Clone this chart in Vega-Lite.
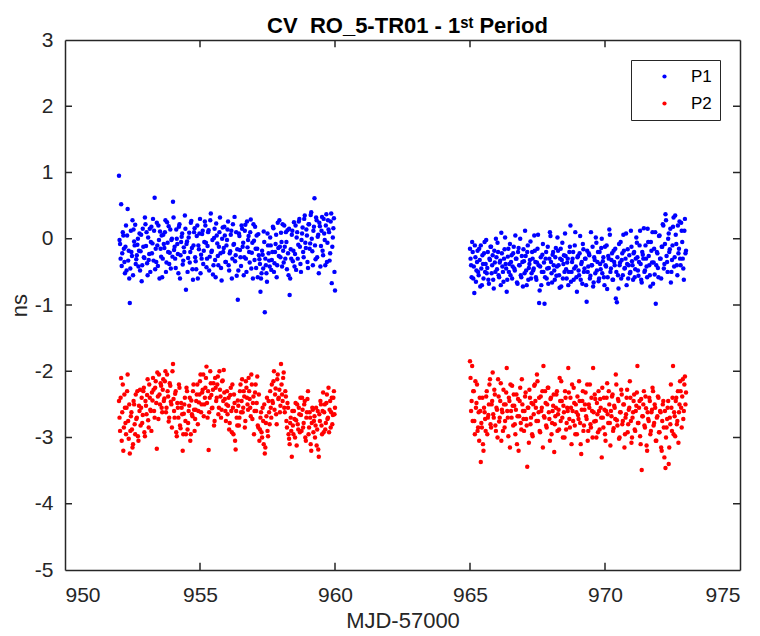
{
"$schema":"https://vega.github.io/schema/vega-lite/v6.json",
"autosize":{"type":"none"},
"padding":{"left":65,"top":40,"right":20,"bottom":66},
"width":675,"height":530,
"background":"white",
"title":{"text":"CV\u00a0 RO_5-TR01 - 1ˢᵗ Period","fontSize":22,"fontWeight":"bold","color":"#000000","font":"Liberation Sans","anchor":"middle","offset":-9,"dx":5},
"config":{"font":"Liberation Sans","view":{"stroke":null},
"axis":{"grid":false,"domainColor":"#262626","domainWidth":1.5,"labelColor":"#262626","titleColor":"#262626","labelFontSize":21,"titleFontSize":22,"titleFontWeight":"normal"}},
"datasets":{
"xt":[{"tx":955},{"tx":960},{"tx":965},{"tx":970}],
"yt":[{"ty":-4},{"ty":-3},{"ty":-2},{"ty":-1},{"ty":0},{"ty":1},{"ty":2}],
"pts":[
{"t":952,"P1":0.95,"P2":-2.45},{"t":952.04,"P1":-0.08,"P2":-2.9},{"t":952.08,"P1":0.52,"P2":-2.1},{"t":952.12,"P1":-0.22,"P2":-2.62},{"t":952.16,"P1":0.05,"P2":-3.2},{"t":952.2,"P1":-0.35,"P2":-2.35},{"t":952.24,"P1":-0.12,"P2":-2.78},{"t":952.28,"P1":-0.48,"P2":-2.55},{"t":952.32,"P1":0.45,"P2":-2.05},{"t":952.36,"P1":-0.18,"P2":-3.02},
{"t":952.4,"P1":-0.97,"P2":-3.24},{"t":952.44,"P1":0.12,"P2":-2.68},{"t":952.48,"P1":-0.26,"P2":-2.88},{"t":952.52,"P1":-0.55,"P2":-3.1},{"t":952.56,"P1":-0.04,"P2":-2.5},{"t":952.6,"P1":0.21,"P2":-2.95},{"t":952.64,"P1":-0.31,"P2":-2.72},{"t":952.68,"P1":-0.09,"P2":-2.3},{"t":952.72,"P1":-0.42,"P2":-3.05},{"t":952.76,"P1":0.08,"P2":-2.6},
{"t":952.8,"P1":-0.19,"P2":-2.82},{"t":952.84,"P1":-0.64,"P2":-2.4},{"t":952.88,"P1":0.15,"P2":-2.66},{"t":952.92,"P1":-0.28,"P2":-2.25},{"t":952.96,"P1":0.32,"P2":-2.98},{"t":953,"P1":-0.11,"P2":-2.52},{"t":953.04,"P1":-0.37,"P2":-2.36},{"t":953.08,"P1":0.02,"P2":-2.74},{"t":953.12,"P1":-0.23,"P2":-2.2},{"t":953.16,"P1":-0.5,"P2":-2.58},
{"t":953.2,"P1":0.18,"P2":-2.9},{"t":953.24,"P1":-0.07,"P2":-2.44},{"t":953.28,"P1":-0.33,"P2":-2.28},{"t":953.32,"P1":0.62,"P2":-2.7},{"t":953.36,"P1":-0.15,"P2":-2.15},{"t":953.4,"P1":0.24,"P2":-3.17},{"t":953.44,"P1":-0.41,"P2":-2.38},{"t":953.48,"P1":-0.02,"P2":-2.05},{"t":953.52,"P1":0.11,"P2":-2.5},{"t":953.56,"P1":-0.27,"P2":-2.22},
{"t":953.6,"P1":-0.58,"P2":-2.62},{"t":953.64,"P1":0.06,"P2":-2.12},{"t":953.68,"P1":-0.14,"P2":-2.41},{"t":953.72,"P1":0.28,"P2":-2.0},{"t":953.76,"P1":-0.36,"P2":-2.55},{"t":953.8,"P1":-0.06,"P2":-2.3},{"t":953.84,"P1":0.19,"P2":-2.76},{"t":953.88,"P1":-0.21,"P2":-2.18},{"t":953.92,"P1":-0.45,"P2":-2.46},{"t":953.96,"P1":0.0,"P2":-2.85},
{"t":954,"P1":0.56,"P2":-1.89},{"t":954.04,"P1":-0.17,"P2":-2.6},{"t":954.08,"P1":-0.3,"P2":-2.34},{"t":954.12,"P1":0.14,"P2":-2.92},{"t":954.16,"P1":-0.08,"P2":-2.48},{"t":954.2,"P1":-0.52,"P2":-2.7},{"t":954.24,"P1":0.22,"P2":-2.25},{"t":954.28,"P1":-0.25,"P2":-2.86},{"t":954.32,"P1":0.03,"P2":-2.55},{"t":954.36,"P1":-0.39,"P2":-3.2},
{"t":954.4,"P1":-0.13,"P2":-2.64},{"t":954.44,"P1":0.35,"P2":-2.4},{"t":954.48,"P1":-0.77,"P2":-2.95},{"t":954.52,"P1":-0.04,"P2":-2.3},{"t":954.56,"P1":-0.29,"P2":-2.78},{"t":954.6,"P1":0.09,"P2":-2.52},{"t":954.64,"P1":-0.2,"P2":-3.05},{"t":954.68,"P1":0.27,"P2":-2.44},{"t":954.72,"P1":-0.46,"P2":-2.68},{"t":954.76,"P1":-0.1,"P2":-2.2},
{"t":954.8,"P1":0.16,"P2":-2.9},{"t":954.84,"P1":-0.34,"P2":-2.58},{"t":954.88,"P1":0.04,"P2":-2.35},{"t":954.92,"P1":-0.6,"P2":-2.8},{"t":954.96,"P1":-0.16,"P2":-2.47},{"t":955,"P1":0.3,"P2":-2.15},{"t":955.04,"P1":-0.24,"P2":-2.62},{"t":955.08,"P1":0.07,"P2":-2.32},{"t":955.12,"P1":-0.38,"P2":-2.05},{"t":955.16,"P1":-0.05,"P2":-2.5},
{"t":955.2,"P1":0.2,"P2":-2.25},{"t":955.24,"P1":-0.43,"P2":-1.93},{"t":955.28,"P1":-0.11,"P2":-2.7},{"t":955.32,"P1":0.13,"P2":-3.19},{"t":955.36,"P1":-0.27,"P2":-2.4},{"t":955.4,"P1":0.38,"P2":-2.18},{"t":955.44,"P1":-0.18,"P2":-2.56},{"t":955.48,"P1":-0.54,"P2":-2.28},{"t":955.52,"P1":0.01,"P2":-2.82},{"t":955.56,"P1":-0.32,"P2":-2.1},
{"t":955.6,"P1":0.23,"P2":-2.45},{"t":955.64,"P1":-0.07,"P2":-2.2},{"t":955.68,"P1":-0.4,"P2":-2.65},{"t":955.72,"P1":0.1,"P2":-2.0},{"t":955.76,"P1":-0.22,"P2":-2.38},{"t":955.8,"P1":-0.63,"P2":-2.58},{"t":955.84,"P1":0.17,"P2":-2.14},{"t":955.88,"P1":-0.14,"P2":-1.98},{"t":955.92,"P1":0.05,"P2":-2.42},{"t":955.96,"P1":-0.35,"P2":-2.75},
{"t":956,"P1":-0.02,"P2":-2.3},{"t":956.04,"P1":0.26,"P2":-2.52},{"t":956.08,"P1":-0.48,"P2":-2.88},{"t":956.12,"P1":-0.19,"P2":-2.36},{"t":956.16,"P1":0.12,"P2":-2.6},{"t":956.2,"P1":-0.3,"P2":-2.2},{"t":956.24,"P1":-0.09,"P2":-2.95},{"t":956.28,"P1":0.33,"P2":-2.48},{"t":956.32,"P1":-0.25,"P2":-3.18},{"t":956.36,"P1":-0.56,"P2":-2.7},
{"t":956.4,"P1":-0.92,"P2":-2.44},{"t":956.44,"P1":0.08,"P2":-2.82},{"t":956.48,"P1":-0.17,"P2":-2.3},{"t":956.52,"P1":-0.41,"P2":-2.62},{"t":956.56,"P1":0.15,"P2":-2.12},{"t":956.6,"P1":-0.06,"P2":-2.55},{"t":956.64,"P1":-0.28,"P2":-2.38},{"t":956.68,"P1":0.21,"P2":-2.75},{"t":956.72,"P1":-0.5,"P2":-2.25},{"t":956.76,"P1":-0.13,"P2":-2.5},
{"t":956.8,"P1":0.04,"P2":-2.1},{"t":956.84,"P1":-0.36,"P2":-2.42},{"t":956.88,"P1":0.29,"P2":-2.68},{"t":956.92,"P1":-0.21,"P2":-2.2},{"t":956.96,"P1":-0.6,"P2":-2.48},{"t":957,"P1":-0.03,"P2":-2.95},{"t":957.04,"P1":0.18,"P2":-2.32},{"t":957.08,"P1":-0.44,"P2":-2.6},{"t":957.12,"P1":-0.15,"P2":-2.08},{"t":957.16,"P1":0.07,"P2":-2.85},
{"t":957.2,"P1":-0.31,"P2":-3.05},{"t":957.24,"P1":-0.8,"P2":-2.7},{"t":957.28,"P1":-0.52,"P2":-2.92},{"t":957.32,"P1":-0.24,"P2":-2.55},{"t":957.36,"P1":0.11,"P2":-3.1},{"t":957.4,"P1":-1.11,"P2":-3.24},{"t":957.44,"P1":-0.4,"P2":-2.78},{"t":957.48,"P1":-0.65,"P2":-2.4},{"t":957.52,"P1":-0.1,"P2":-2.98},{"t":957.56,"P1":-0.33,"P2":-2.62},
{"t":957.6,"P1":0.02,"P2":-2.3},{"t":957.64,"P1":-0.47,"P2":-2.7},{"t":957.68,"P1":-0.2,"P2":-2.45},{"t":957.72,"P1":0.16,"P2":-2.15},{"t":957.76,"P1":-0.37,"P2":-2.58},{"t":957.8,"P1":-0.08,"P2":-2.26},{"t":957.84,"P1":-0.58,"P2":-2.8},{"t":957.88,"P1":0.24,"P2":-2.05},{"t":957.92,"P1":-0.26,"P2":-2.4},{"t":957.96,"P1":-0.12,"P2":-2.62},
{"t":958,"P1":0.09,"P2":-1.89},{"t":958.04,"P1":-0.42,"P2":-2.35},{"t":958.08,"P1":-0.18,"P2":-2.1},{"t":958.12,"P1":0.2,"P2":-2.55},{"t":958.16,"P1":-0.3,"P2":-2.3},{"t":958.2,"P1":-0.05,"P2":-2.75},{"t":958.24,"P1":0.13,"P2":-2.48},{"t":958.28,"P1":-0.55,"P2":-2.95},{"t":958.32,"P1":-0.85,"P2":-3.1},{"t":958.36,"P1":-0.16,"P2":-2.7},
{"t":958.4,"P1":0.06,"P2":-3.29},{"t":958.44,"P1":-0.34,"P2":-2.82},{"t":958.48,"P1":0.25,"P2":-2.6},{"t":958.52,"P1":-0.23,"P2":-3.0},{"t":958.56,"P1":-0.47,"P2":-2.74},{"t":958.6,"P1":0.1,"P2":-2.5},{"t":958.64,"P1":-0.09,"P2":-2.88},{"t":958.68,"P1":0.3,"P2":-2.65},{"t":958.72,"P1":-0.38,"P2":-2.4},{"t":958.76,"P1":-0.02,"P2":-2.9},
{"t":958.8,"P1":0.17,"P2":-2.58},{"t":958.84,"P1":-0.28,"P2":-2.78},{"t":958.88,"P1":0.35,"P2":-2.45},{"t":958.92,"P1":-0.14,"P2":-3.05},{"t":958.96,"P1":0.05,"P2":-2.62},{"t":959,"P1":-0.44,"P2":-2.3},{"t":959.04,"P1":0.22,"P2":-2.85},{"t":959.08,"P1":-0.07,"P2":-2.7},{"t":959.12,"P1":0.4,"P2":-3.2},{"t":959.16,"P1":-0.19,"P2":-2.55},
{"t":959.2,"P1":0.12,"P2":-2.92},{"t":959.24,"P1":0.61,"P2":-2.68},{"t":959.28,"P1":-0.31,"P2":-2.82},{"t":959.32,"P1":0.28,"P2":-3.12},{"t":959.36,"P1":0.03,"P2":-2.6},{"t":959.4,"P1":-0.52,"P2":-3.29},{"t":959.44,"P1":0.19,"P2":-2.75},{"t":959.48,"P1":-0.11,"P2":-2.5},{"t":959.52,"P1":0.33,"P2":-2.95},{"t":959.56,"P1":-0.25,"P2":-2.32},
{"t":959.6,"P1":0.08,"P2":-2.62},{"t":959.64,"P1":-0.4,"P2":-2.88},{"t":959.68,"P1":0.37,"P2":-2.48},{"t":959.72,"P1":-0.06,"P2":-2.72},{"t":959.76,"P1":0.14,"P2":-2.25},{"t":959.8,"P1":-0.33,"P2":-2.58},{"t":959.84,"P1":0.26,"P2":-2.85},{"t":959.88,"P1":-0.67,"P2":-2.4},{"t":959.92,"P1":0.02,"P2":-2.66},{"t":959.96,"P1":0.31,"P2":-2.3},
{"t":960,"P1":-0.78,"P2":-2.55},
{"t":952.02,"P1":-0.02,"P2":-2.7},{"t":952.06,"P1":-0.3,"P2":-2.4},{"t":952.1,"P1":-0.41,"P2":-3.05},{"t":952.14,"P1":0.1,"P2":-2.2},{"t":952.18,"P1":-0.15,"P2":-2.85},{"t":952.22,"P1":-0.52,"P2":-2.55},{"t":952.26,"P1":0.2,"P2":-2.95},{"t":952.3,"P1":0.05,"P2":-2.3},{"t":952.34,"P1":-0.33,"P2":-2.75},{"t":952.38,"P1":-0.6,"P2":-2.5},
{"t":952.42,"P1":-0.45,"P2":-2.9},{"t":952.46,"P1":-0.2,"P2":-2.62},{"t":952.5,"P1":0.28,"P2":-3.15},{"t":952.54,"P1":0.14,"P2":-2.45},{"t":952.58,"P1":-0.1,"P2":-2.8},{"t":952.62,"P1":-0.38,"P2":-2.35},{"t":952.66,"P1":-0.25,"P2":-2.7},{"t":952.7,"P1":0.0,"P2":-2.98},{"t":952.74,"P1":-0.18,"P2":-2.52},{"t":952.78,"P1":-0.48,"P2":-2.28},
{"t":952.82,"P1":0.06,"P2":-2.55},{"t":952.86,"P1":-0.4,"P2":-2.78},{"t":952.9,"P1":-0.12,"P2":-2.3},{"t":952.94,"P1":-0.29,"P2":-2.92},{"t":952.98,"P1":0.22,"P2":-2.45},{"t":953.02,"P1":0.1,"P2":-2.65},{"t":953.06,"P1":-0.55,"P2":-2.12},{"t":953.1,"P1":-0.32,"P2":-2.85},{"t":953.14,"P1":0.15,"P2":-2.4},{"t":953.18,"P1":-0.05,"P2":-2.6},
{"t":953.22,"P1":-0.22,"P2":-2.32},{"t":953.26,"P1":0.3,"P2":-2.1},{"t":953.3,"P1":0.12,"P2":-2.6},{"t":953.34,"P1":-0.46,"P2":-2.25},{"t":953.38,"P1":-0.35,"P2":-2.48},{"t":953.42,"P1":-0.1,"P2":-2.02},{"t":953.46,"P1":0.2,"P2":-2.72},{"t":953.5,"P1":-0.6,"P2":-2.35},{"t":953.54,"P1":-0.15,"P2":-2.18},{"t":953.58,"P1":0.05,"P2":-2.55},
{"t":953.62,"P1":-0.3,"P2":-2.28},{"t":953.66,"P1":-0.08,"P2":-2.45},{"t":953.7,"P1":0.1,"P2":-2.15},{"t":953.74,"P1":-0.5,"P2":-2.62},{"t":953.78,"P1":0.25,"P2":-2.05},{"t":953.82,"P1":-0.2,"P2":-2.38},{"t":953.86,"P1":-0.38,"P2":-2.7},{"t":953.9,"P1":0.14,"P2":-2.22},{"t":953.94,"P1":-0.02,"P2":-2.5},{"t":953.98,"P1":-0.27,"P2":-2.0},
{"t":954.02,"P1":0.32,"P2":-2.42},{"t":954.06,"P1":-0.12,"P2":-2.7},{"t":954.1,"P1":-0.44,"P2":-2.3},{"t":954.14,"P1":0.0,"P2":-2.98},{"t":954.18,"P1":-0.23,"P2":-2.55},{"t":954.22,"P1":0.18,"P2":-2.2},{"t":954.26,"P1":-0.6,"P2":-2.82},{"t":954.3,"P1":-0.05,"P2":-2.48},{"t":954.34,"P1":0.08,"P2":-2.65},{"t":954.38,"P1":-0.33,"P2":-2.95},
{"t":954.42,"P1":-0.2,"P2":-2.5},{"t":954.46,"P1":0.15,"P2":-2.75},{"t":954.5,"P1":-0.08,"P2":-2.25},{"t":954.54,"P1":-0.5,"P2":-2.88},{"t":954.58,"P1":0.02,"P2":-2.6},{"t":954.62,"P1":-0.36,"P2":-2.4},{"t":954.66,"P1":0.24,"P2":-2.95},{"t":954.7,"P1":-0.14,"P2":-2.65},{"t":954.74,"P1":-0.62,"P2":-2.3},{"t":954.78,"P1":0.1,"P2":-2.58},
{"t":954.82,"P1":-0.28,"P2":-2.72},{"t":954.86,"P1":-0.46,"P2":-2.45},{"t":954.9,"P1":0.2,"P2":-2.2},{"t":954.94,"P1":-0.1,"P2":-2.6},{"t":954.98,"P1":0.08,"P2":-2.35},{"t":955.02,"P1":-0.52,"P2":-2.05},{"t":955.06,"P1":-0.3,"P2":-2.5},{"t":955.1,"P1":0.12,"P2":-2.28},{"t":955.14,"P1":-0.18,"P2":-2.68},{"t":955.18,"P1":0.26,"P2":-2.4},
{"t":955.22,"P1":-0.06,"P2":-2.1},{"t":955.26,"P1":-0.3,"P2":-2.48},{"t":955.3,"P1":0.1,"P2":-2.3},{"t":955.34,"P1":-0.48,"P2":-2.62},{"t":955.38,"P1":0.28,"P2":-2.0},{"t":955.42,"P1":-0.2,"P2":-2.36},{"t":955.46,"P1":-0.02,"P2":-2.55},{"t":955.5,"P1":-0.4,"P2":-2.18},{"t":955.54,"P1":0.15,"P2":-2.75},{"t":955.58,"P1":-0.58,"P2":-2.25},
{"t":955.62,"P1":0.05,"P2":-2.4},{"t":955.66,"P1":-0.26,"P2":-2.08},{"t":955.7,"P1":-0.12,"P2":-2.55},{"t":955.74,"P1":0.32,"P2":-2.28},{"t":955.78,"P1":-0.44,"P2":-2.7},{"t":955.82,"P1":0.0,"P2":-2.15},{"t":955.86,"P1":-0.2,"P2":-2.45},{"t":955.9,"P1":0.18,"P2":-2.32},{"t":955.94,"P1":-0.35,"P2":-2.6},{"t":955.98,"P1":-0.1,"P2":-2.5},
{"t":956.02,"P1":0.14,"P2":-2.65},{"t":956.06,"P1":-0.4,"P2":-2.4},{"t":956.1,"P1":-0.22,"P2":-2.78},{"t":956.14,"P1":0.06,"P2":-2.25},{"t":956.18,"P1":-0.6,"P2":-2.92},{"t":956.22,"P1":0.22,"P2":-2.55},{"t":956.26,"P1":-0.08,"P2":-2.35},{"t":956.3,"P1":-0.34,"P2":-3.05},{"t":956.34,"P1":0.1,"P2":-2.6},{"t":956.38,"P1":-0.16,"P2":-2.82},
{"t":956.42,"P1":-0.48,"P2":-2.52},{"t":956.46,"P1":0.04,"P2":-2.7},{"t":956.5,"P1":-0.28,"P2":-2.2},{"t":956.54,"P1":0.2,"P2":-2.45},{"t":956.58,"P1":-0.12,"P2":-2.62},{"t":956.62,"P1":-0.55,"P2":-2.3},{"t":956.66,"P1":0.12,"P2":-2.85},{"t":956.7,"P1":-0.3,"P2":-2.15},{"t":956.74,"P1":0.26,"P2":-2.4},{"t":956.78,"P1":-0.02,"P2":-2.58},
{"t":956.82,"P1":-0.2,"P2":-2.3},{"t":956.86,"P1":0.1,"P2":-2.55},{"t":956.9,"P1":-0.45,"P2":-2.05},{"t":956.94,"P1":-0.06,"P2":-2.72},{"t":956.98,"P1":0.22,"P2":-2.38},{"t":957.02,"P1":-0.32,"P2":-2.6},{"t":957.06,"P1":-0.15,"P2":-2.2},{"t":957.1,"P1":0.05,"P2":-2.48},{"t":957.14,"P1":-0.58,"P2":-2.82},{"t":957.18,"P1":-0.25,"P2":-2.35},
{"t":957.22,"P1":-0.38,"P2":-2.88},{"t":957.26,"P1":-0.6,"P2":-2.62},{"t":957.3,"P1":-0.18,"P2":-3.0},{"t":957.34,"P1":-0.45,"P2":-2.75},{"t":957.38,"P1":-0.05,"P2":-2.5},{"t":957.42,"P1":-0.3,"P2":-3.15},{"t":957.46,"P1":-0.52,"P2":-2.68},{"t":957.5,"P1":0.08,"P2":-2.9},{"t":957.54,"P1":-0.22,"P2":-2.45},{"t":957.58,"P1":-0.42,"P2":-2.8},
{"t":957.62,"P1":-0.1,"P2":-2.55},{"t":957.66,"P1":-0.32,"P2":-2.2},{"t":957.7,"P1":0.18,"P2":-2.48},{"t":957.74,"P1":-0.5,"P2":-2.0},{"t":957.78,"P1":-0.2,"P2":-2.35},{"t":957.82,"P1":0.06,"P2":-2.65},{"t":957.86,"P1":-0.4,"P2":-2.12},{"t":957.9,"P1":-0.14,"P2":-2.42},{"t":957.94,"P1":0.28,"P2":-2.28},{"t":957.98,"P1":-0.28,"P2":-2.52},
{"t":958.02,"P1":-0.05,"P2":-2.2},{"t":958.06,"P1":0.22,"P2":-2.45},{"t":958.1,"P1":-0.36,"P2":-2.02},{"t":958.14,"P1":-0.12,"P2":-2.62},{"t":958.18,"P1":0.1,"P2":-2.38},{"t":958.22,"P1":-0.46,"P2":-2.85},{"t":958.26,"P1":-0.22,"P2":-2.55},{"t":958.3,"P1":0.15,"P2":-3.02},{"t":958.34,"P1":-0.6,"P2":-2.78},{"t":958.38,"P1":-0.3,"P2":-2.9},
{"t":958.42,"P1":0.12,"P2":-2.6},{"t":958.46,"P1":-0.18,"P2":-2.95},{"t":958.5,"P1":-0.42,"P2":-2.72},{"t":958.54,"P1":0.2,"P2":-2.48},{"t":958.58,"P1":0.02,"P2":-3.12},{"t":958.62,"P1":-0.3,"P2":-2.8},{"t":958.66,"P1":0.26,"P2":-2.55},{"t":958.7,"P1":-0.12,"P2":-2.92},{"t":958.74,"P1":-0.5,"P2":-2.66},{"t":958.78,"P1":0.08,"P2":-2.4},
{"t":958.82,"P1":-0.2,"P2":-2.85},{"t":958.86,"P1":0.3,"P2":-2.5},{"t":958.9,"P1":-0.06,"P2":-3.0},{"t":958.94,"P1":0.14,"P2":-2.7},{"t":958.98,"P1":-0.35,"P2":-2.42},{"t":959.02,"P1":0.22,"P2":-2.95},{"t":959.06,"P1":-0.15,"P2":-2.62},{"t":959.1,"P1":0.36,"P2":-3.1},{"t":959.14,"P1":0.0,"P2":-2.78},{"t":959.18,"P1":-0.4,"P2":-2.58},
{"t":959.22,"P1":0.18,"P2":-2.75},{"t":959.26,"P1":-0.1,"P2":-3.0},{"t":959.3,"P1":0.32,"P2":-2.55},{"t":959.34,"P1":-0.28,"P2":-2.88},{"t":959.38,"P1":0.06,"P2":-3.18},{"t":959.42,"P1":0.24,"P2":-2.65},{"t":959.46,"P1":-0.42,"P2":-2.45},{"t":959.5,"P1":0.12,"P2":-2.82},{"t":959.54,"P1":-0.18,"P2":-2.6},{"t":959.58,"P1":0.3,"P2":-2.92},
{"t":959.62,"P1":-0.02,"P2":-2.5},{"t":959.66,"P1":0.2,"P2":-2.78},{"t":959.7,"P1":-0.35,"P2":-2.35},{"t":959.74,"P1":0.28,"P2":-2.7},{"t":959.78,"P1":0.1,"P2":-2.92},{"t":959.82,"P1":-0.22,"P2":-2.45},{"t":959.86,"P1":0.38,"P2":-2.62},{"t":959.9,"P1":-0.12,"P2":-2.8},{"t":959.94,"P1":0.16,"P2":-2.4},{"t":959.98,"P1":-0.5,"P2":-2.65},
{"t":965,"P1":-0.15,"P2":-1.85},{"t":965.04,"P1":-0.4,"P2":-2.6},{"t":965.08,"P1":-0.05,"P2":-1.92},{"t":965.12,"P1":-0.6,"P2":-2.3},{"t":965.16,"P1":-0.82,"P2":-2.75},{"t":965.2,"P1":-0.28,"P2":-2.15},{"t":965.24,"P1":-0.48,"P2":-2.48},{"t":965.28,"P1":-0.18,"P2":-2.9},{"t":965.32,"P1":-0.55,"P2":-2.62},{"t":965.36,"P1":-0.32,"P2":-2.4},
{"t":965.4,"P1":-0.1,"P2":-3.37},{"t":965.44,"P1":-0.7,"P2":-2.85},{"t":965.48,"P1":-0.38,"P2":-3.1},{"t":965.52,"P1":-0.22,"P2":-2.55},{"t":965.56,"P1":-0.5,"P2":-2.72},{"t":965.6,"P1":-0.02,"P2":-2.38},{"t":965.64,"P1":-0.44,"P2":-2.95},{"t":965.68,"P1":-0.62,"P2":-2.66},{"t":965.72,"P1":-0.3,"P2":-2.2},{"t":965.76,"P1":-0.12,"P2":-2.8},
{"t":965.8,"P1":-0.52,"P2":-2.5},{"t":965.84,"P1":-0.25,"P2":-2.02},{"t":965.88,"P1":-0.75,"P2":-2.7},{"t":965.92,"P1":-0.36,"P2":-2.35},{"t":965.96,"P1":0.0,"P2":-2.9},{"t":966,"P1":-0.46,"P2":-2.58},{"t":966.04,"P1":-0.2,"P2":-2.12},{"t":966.08,"P1":-0.58,"P2":-2.76},{"t":966.12,"P1":-0.33,"P2":-2.45},{"t":966.16,"P1":0.09,"P2":-3.05},
{"t":966.2,"P1":-0.42,"P2":-2.62},{"t":966.24,"P1":-0.65,"P2":-2.28},{"t":966.28,"P1":-0.16,"P2":-2.85},{"t":966.32,"P1":-0.38,"P2":-2.5},{"t":966.36,"P1":-0.8,"P2":-1.95},{"t":966.4,"P1":-0.27,"P2":-2.7},{"t":966.44,"P1":-0.5,"P2":-2.4},{"t":966.48,"P1":-0.08,"P2":-3.15},{"t":966.52,"P1":-0.35,"P2":-2.6},{"t":966.56,"P1":-0.6,"P2":-2.22},
{"t":966.6,"P1":-0.22,"P2":-2.82},{"t":966.64,"P1":-0.45,"P2":-2.52},{"t":966.68,"P1":0.05,"P2":-2.95},{"t":966.72,"P1":-0.3,"P2":-2.35},{"t":966.76,"P1":-0.68,"P2":-2.68},{"t":966.8,"P1":-0.14,"P2":-3.2},{"t":966.84,"P1":-0.4,"P2":-2.45},{"t":966.88,"P1":-0.55,"P2":-2.78},{"t":966.92,"P1":-0.26,"P2":-2.12},{"t":966.96,"P1":-0.72,"P2":-2.6},
{"t":967,"P1":-0.34,"P2":-2.9},{"t":967.04,"P1":0.12,"P2":-2.38},{"t":967.08,"P1":-0.48,"P2":-2.72},{"t":967.12,"P1":-0.2,"P2":-3.44},{"t":967.16,"P1":-0.62,"P2":-2.55},{"t":967.2,"P1":-0.38,"P2":-2.28},{"t":967.24,"P1":-0.04,"P2":-2.8},{"t":967.28,"P1":-0.52,"P2":-2.48},{"t":967.32,"P1":-0.3,"P2":-2.98},{"t":967.36,"P1":-0.45,"P2":-2.65},
{"t":967.4,"P1":-0.18,"P2":-2.2},{"t":967.44,"P1":-0.58,"P2":-2.55},{"t":967.48,"P1":-0.36,"P2":-2.05},{"t":967.52,"P1":0.06,"P2":-2.75},{"t":967.56,"P1":-0.97,"P2":-2.4},{"t":967.6,"P1":-0.42,"P2":-2.92},{"t":967.64,"P1":-0.7,"P2":-2.6},{"t":967.68,"P1":-0.24,"P2":-2.3},{"t":967.72,"P1":-0.5,"P2":-1.92},{"t":967.76,"P1":-0.98,"P2":-2.7},
{"t":967.8,"P1":-0.3,"P2":-2.48},{"t":967.84,"P1":-0.6,"P2":-2.85},{"t":967.88,"P1":-0.12,"P2":-2.25},{"t":967.92,"P1":-0.44,"P2":-2.62},{"t":967.96,"P1":0.1,"P2":-3.05},{"t":968,"P1":-0.35,"P2":-2.4},{"t":968.04,"P1":-0.66,"P2":-2.78},{"t":968.08,"P1":-0.2,"P2":-2.52},{"t":968.12,"P1":-0.48,"P2":-3.22},{"t":968.16,"P1":-0.28,"P2":-2.68},
{"t":968.2,"P1":-0.56,"P2":-2.35},{"t":968.24,"P1":0.02,"P2":-2.9},{"t":968.28,"P1":-0.4,"P2":-2.58},{"t":968.32,"P1":-0.74,"P2":-2.1},{"t":968.36,"P1":-0.15,"P2":-2.75},{"t":968.4,"P1":-0.32,"P2":-2.45},{"t":968.44,"P1":-0.6,"P2":-3.0},{"t":968.48,"P1":-0.25,"P2":-2.62},{"t":968.52,"P1":0.08,"P2":-2.3},{"t":968.56,"P1":-0.46,"P2":-2.88},
{"t":968.6,"P1":-0.36,"P2":-2.55},{"t":968.64,"P1":-0.7,"P2":-1.95},{"t":968.68,"P1":-0.2,"P2":-2.72},{"t":968.72,"P1":0.2,"P2":-2.4},{"t":968.76,"P1":-0.5,"P2":-3.1},{"t":968.8,"P1":-0.3,"P2":-2.6},{"t":968.84,"P1":-0.62,"P2":-2.25},{"t":968.88,"P1":-0.1,"P2":-2.82},{"t":968.92,"P1":-0.42,"P2":-2.5},{"t":968.96,"P1":-0.8,"P2":-2.95},
{"t":969,"P1":-0.26,"P2":-2.66},{"t":969.04,"P1":-0.55,"P2":-2.15},{"t":969.08,"P1":0.04,"P2":-2.78},{"t":969.12,"P1":-0.38,"P2":-3.25},{"t":969.16,"P1":-0.68,"P2":-2.45},{"t":969.2,"P1":-0.16,"P2":-2.9},{"t":969.24,"P1":-0.45,"P2":-2.58},{"t":969.28,"P1":-0.3,"P2":-2.32},{"t":969.32,"P1":-0.95,"P2":-2.72},{"t":969.36,"P1":-0.5,"P2":-3.05},
{"t":969.4,"P1":-0.22,"P2":-2.5},{"t":969.44,"P1":-0.6,"P2":-2.2},{"t":969.48,"P1":0.1,"P2":-2.85},{"t":969.52,"P1":-0.4,"P2":-2.6},{"t":969.56,"P1":-0.72,"P2":-1.95},{"t":969.6,"P1":-0.28,"P2":-2.76},{"t":969.64,"P1":-0.52,"P2":-2.42},{"t":969.68,"P1":-0.06,"P2":-3.0},{"t":969.72,"P1":-0.35,"P2":-2.65},{"t":969.76,"P1":-0.64,"P2":-2.3},
{"t":969.8,"P1":-0.2,"P2":-2.88},{"t":969.84,"P1":-0.46,"P2":-2.55},{"t":969.88,"P1":0.0,"P2":-3.3},{"t":969.92,"P1":-0.34,"P2":-2.7},{"t":969.96,"P1":-0.58,"P2":-2.4},{"t":970,"P1":-0.12,"P2":-2.95},{"t":970.04,"P1":-0.42,"P2":-2.6},{"t":970.08,"P1":-0.76,"P2":-2.18},{"t":970.12,"P1":-0.26,"P2":-2.78},{"t":970.16,"P1":0.14,"P2":-2.5},
{"t":970.2,"P1":-0.5,"P2":-3.12},{"t":970.24,"P1":-0.32,"P2":-2.68},{"t":970.28,"P1":-0.62,"P2":-2.35},{"t":970.32,"P1":-0.18,"P2":-2.86},{"t":970.36,"P1":-0.4,"P2":-2.55},{"t":970.4,"P1":-0.9,"P2":-2.05},{"t":970.44,"P1":-0.96,"P2":-2.74},{"t":970.48,"P1":-0.55,"P2":-2.42},{"t":970.52,"P1":-0.08,"P2":-3.02},{"t":970.56,"P1":-0.36,"P2":-2.62},
{"t":970.6,"P1":-0.6,"P2":-2.28},{"t":970.64,"P1":-0.22,"P2":-2.8},{"t":970.68,"P1":0.06,"P2":-2.5},{"t":970.72,"P1":-0.45,"P2":-3.15},{"t":970.76,"P1":-0.3,"P2":-2.7},{"t":970.8,"P1":-0.7,"P2":-2.4},{"t":970.84,"P1":-0.16,"P2":-2.92},{"t":970.88,"P1":-0.4,"P2":-2.58},{"t":970.92,"P1":-0.52,"P2":-2.15},{"t":970.96,"P1":0.12,"P2":-2.75},
{"t":971,"P1":-0.34,"P2":-3.0},{"t":971.04,"P1":-0.62,"P2":-2.62},{"t":971.08,"P1":-0.2,"P2":-2.35},{"t":971.12,"P1":-0.46,"P2":-2.9},{"t":971.16,"P1":0.02,"P2":-2.52},{"t":971.2,"P1":-0.28,"P2":-1.92},{"t":971.24,"P1":-0.56,"P2":-2.78},{"t":971.28,"P1":-0.1,"P2":-2.45},{"t":971.32,"P1":-0.38,"P2":-3.1},{"t":971.36,"P1":-0.66,"P2":-3.49},
{"t":971.4,"P1":-0.24,"P2":-2.68},{"t":971.44,"P1":0.16,"P2":-2.3},{"t":971.48,"P1":-0.48,"P2":-2.85},{"t":971.52,"P1":-0.3,"P2":-2.56},{"t":971.56,"P1":-0.58,"P2":-3.2},{"t":971.6,"P1":-0.05,"P2":-2.72},{"t":971.64,"P1":-0.4,"P2":-2.4},{"t":971.68,"P1":-0.72,"P2":-2.95},{"t":971.72,"P1":-0.18,"P2":-2.62},{"t":971.76,"P1":0.1,"P2":-2.25},
{"t":971.8,"P1":-0.36,"P2":-2.82},{"t":971.84,"P1":-0.54,"P2":-2.5},{"t":971.88,"P1":-0.98,"P2":-3.05},{"t":971.92,"P1":-0.2,"P2":-2.7},{"t":971.96,"P1":-0.44,"P2":-2.38},{"t":972,"P1":0.04,"P2":-2.92},{"t":972.04,"P1":-0.3,"P2":-2.6},{"t":972.08,"P1":-0.6,"P2":-3.15},{"t":972.12,"P1":-0.12,"P2":-2.75},{"t":972.16,"P1":0.2,"P2":-2.45},
{"t":972.2,"P1":-0.38,"P2":-3.3},{"t":972.24,"P1":0.37,"P2":-3.46},{"t":972.28,"P1":-0.26,"P2":-2.85},{"t":972.32,"P1":-0.5,"P2":-2.55},{"t":972.36,"P1":0.08,"P2":-3.4},{"t":972.4,"P1":-0.16,"P2":-2.7},{"t":972.44,"P1":-0.66,"P2":-2.2},{"t":972.48,"P1":-0.32,"P2":-2.9},{"t":972.52,"P1":0.18,"P2":-1.92},{"t":972.56,"P1":-0.42,"P2":-2.62},
{"t":972.6,"P1":0.35,"P2":-2.98},{"t":972.64,"P1":-0.08,"P2":-2.4},{"t":972.68,"P1":-0.55,"P2":-2.75},{"t":972.72,"P1":-0.22,"P2":-3.08},{"t":972.76,"P1":0.26,"P2":-2.5},{"t":972.8,"P1":-0.4,"P2":-2.3},{"t":972.84,"P1":0.12,"P2":-2.85},{"t":972.88,"P1":-0.3,"P2":-2.12},{"t":972.92,"P1":-0.62,"P2":-2.6},{"t":972.96,"P1":0.3,"P2":-2.08},
{"t":973,"P1":-0.18,"P2":-2.32},
{"t":965.02,"P1":-0.3,"P2":-2.1},{"t":965.06,"P1":-0.58,"P2":-2.45},{"t":965.1,"P1":-0.2,"P2":-2.75},{"t":965.14,"P1":-0.42,"P2":-2.3},{"t":965.18,"P1":-0.1,"P2":-2.95},{"t":965.22,"P1":-0.65,"P2":-2.55},{"t":965.26,"P1":-0.35,"P2":-2.2},{"t":965.3,"P1":-0.5,"P2":-2.85},{"t":965.34,"P1":-0.15,"P2":-3.05},{"t":965.38,"P1":-0.72,"P2":-2.6},
{"t":965.42,"P1":-0.45,"P2":-2.78},{"t":965.46,"P1":-0.25,"P2":-2.4},{"t":965.5,"P1":-0.6,"P2":-3.2},{"t":965.54,"P1":-0.05,"P2":-2.62},{"t":965.58,"P1":-0.38,"P2":-2.9},{"t":965.62,"P1":-0.52,"P2":-2.3},{"t":965.66,"P1":-0.2,"P2":-2.7},{"t":965.7,"P1":-0.68,"P2":-2.5},{"t":965.74,"P1":-0.32,"P2":-2.12},{"t":965.78,"P1":-0.12,"P2":-2.85},
{"t":965.82,"P1":-0.4,"P2":-2.45},{"t":965.86,"P1":-0.62,"P2":-2.65},{"t":965.9,"P1":-0.18,"P2":-2.28},{"t":965.94,"P1":-0.5,"P2":-2.82},{"t":965.98,"P1":-0.28,"P2":-2.55},{"t":966.02,"P1":-0.06,"P2":-3.0},{"t":966.06,"P1":-0.55,"P2":-2.38},{"t":966.1,"P1":-0.36,"P2":-2.7},{"t":966.14,"P1":-0.7,"P2":-2.18},{"t":966.18,"P1":-0.22,"P2":-2.58},
{"t":966.22,"P1":-0.5,"P2":-2.9},{"t":966.26,"P1":-0.3,"P2":-2.5},{"t":966.3,"P1":0.02,"P2":-2.75},{"t":966.34,"P1":-0.45,"P2":-2.32},{"t":966.38,"P1":-0.62,"P2":-2.6},{"t":966.42,"P1":-0.15,"P2":-2.98},{"t":966.46,"P1":-0.38,"P2":-2.45},{"t":966.5,"P1":-0.55,"P2":-2.2},{"t":966.54,"P1":-0.25,"P2":-2.7},{"t":966.58,"P1":-0.42,"P2":-2.52},
{"t":966.62,"P1":-0.12,"P2":-2.35},{"t":966.66,"P1":-0.48,"P2":-2.8},{"t":966.7,"P1":-0.3,"P2":-2.58},{"t":966.74,"P1":-0.66,"P2":-3.1},{"t":966.78,"P1":-0.2,"P2":-2.42},{"t":966.82,"P1":-0.4,"P2":-2.68},{"t":966.86,"P1":0.0,"P2":-2.25},{"t":966.9,"P1":-0.58,"P2":-2.88},{"t":966.94,"P1":-0.35,"P2":-2.5},{"t":966.98,"P1":-0.16,"P2":-2.72},
{"t":967.02,"P1":-0.52,"P2":-2.6},{"t":967.06,"P1":-0.26,"P2":-2.32},{"t":967.1,"P1":-0.7,"P2":-2.82},{"t":967.14,"P1":-0.1,"P2":-2.55},{"t":967.18,"P1":-0.44,"P2":-3.08},{"t":967.22,"P1":-0.32,"P2":-2.4},{"t":967.26,"P1":-0.6,"P2":-2.7},{"t":967.3,"P1":-0.2,"P2":-2.95},{"t":967.34,"P1":-0.48,"P2":-2.5},{"t":967.38,"P1":0.05,"P2":-2.22},
{"t":967.42,"P1":-0.35,"P2":-2.45},{"t":967.46,"P1":-0.62,"P2":-2.75},{"t":967.5,"P1":-0.15,"P2":-2.15},{"t":967.54,"P1":-0.4,"P2":-2.62},{"t":967.58,"P1":-0.78,"P2":-2.9},{"t":967.62,"P1":-0.28,"P2":-2.38},{"t":967.66,"P1":-0.5,"P2":-2.55},{"t":967.7,"P1":-0.08,"P2":-3.15},{"t":967.74,"P1":-0.36,"P2":-2.68},{"t":967.78,"P1":-0.58,"P2":-2.3},
{"t":967.82,"P1":-0.2,"P2":-2.82},{"t":967.86,"P1":-0.45,"P2":-2.5},{"t":967.9,"P1":-0.68,"P2":-2.25},{"t":967.94,"P1":-0.3,"P2":-2.72},{"t":967.98,"P1":0.04,"P2":-2.42},{"t":968.02,"P1":-0.52,"P2":-2.95},{"t":968.06,"P1":-0.24,"P2":-2.6},{"t":968.1,"P1":-0.4,"P2":-2.35},{"t":968.14,"P1":-0.62,"P2":-2.8},{"t":968.18,"P1":-0.14,"P2":-2.55},
{"t":968.22,"P1":-0.42,"P2":-2.3},{"t":968.26,"P1":-0.18,"P2":-2.65},{"t":968.3,"P1":-0.55,"P2":-2.88},{"t":968.34,"P1":-0.3,"P2":-2.45},{"t":968.38,"P1":-0.72,"P2":-2.15},{"t":968.42,"P1":-0.06,"P2":-2.7},{"t":968.46,"P1":-0.38,"P2":-2.52},{"t":968.5,"P1":-0.5,"P2":-3.0},{"t":968.54,"P1":-0.26,"P2":-2.4},{"t":968.58,"P1":-0.6,"P2":-2.78},
{"t":968.62,"P1":-0.3,"P2":-2.6},{"t":968.66,"P1":-0.5,"P2":-2.32},{"t":968.7,"P1":-0.12,"P2":-2.85},{"t":968.74,"P1":-0.65,"P2":-2.55},{"t":968.78,"P1":-0.35,"P2":-2.2},{"t":968.82,"P1":-0.2,"P2":-2.75},{"t":968.86,"P1":-0.45,"P2":-2.48},{"t":968.9,"P1":0.1,"P2":-2.95},{"t":968.94,"P1":-0.58,"P2":-2.62},{"t":968.98,"P1":-0.28,"P2":-2.38},
{"t":969.02,"P1":-0.48,"P2":-2.72},{"t":969.06,"P1":-0.22,"P2":-2.45},{"t":969.1,"P1":-0.62,"P2":-3.1},{"t":969.14,"P1":-0.35,"P2":-2.58},{"t":969.18,"P1":-0.08,"P2":-2.3},{"t":969.22,"P1":-0.5,"P2":-2.82},{"t":969.26,"P1":-0.3,"P2":-2.5},{"t":969.3,"P1":-0.7,"P2":-2.68},{"t":969.34,"P1":-0.18,"P2":-2.2},{"t":969.38,"P1":-0.42,"P2":-2.9},
{"t":969.42,"P1":-0.25,"P2":-2.55},{"t":969.46,"P1":-0.56,"P2":-2.8},{"t":969.5,"P1":-0.4,"P2":-2.4},{"t":969.54,"P1":-0.12,"P2":-3.0},{"t":969.58,"P1":-0.66,"P2":-2.62},{"t":969.62,"P1":-0.32,"P2":-2.35},{"t":969.66,"P1":0.02,"P2":-2.75},{"t":969.7,"P1":-0.48,"P2":-2.48},{"t":969.74,"P1":-0.2,"P2":-2.92},{"t":969.78,"P1":-0.6,"P2":-2.6},
{"t":969.82,"P1":-0.38,"P2":-2.42},{"t":969.86,"P1":-0.14,"P2":-2.7},{"t":969.9,"P1":-0.52,"P2":-2.25},{"t":969.94,"P1":-0.28,"P2":-2.85},{"t":969.98,"P1":-0.7,"P2":-2.58},{"t":970.02,"P1":-0.4,"P2":-3.05},{"t":970.06,"P1":-0.1,"P2":-2.4},{"t":970.1,"P1":-0.58,"P2":-2.65},{"t":970.14,"P1":-0.3,"P2":-2.3},{"t":970.18,"P1":0.06,"P2":-2.78},
{"t":970.22,"P1":-0.45,"P2":-2.6},{"t":970.26,"P1":-0.22,"P2":-2.38},{"t":970.3,"P1":-0.62,"P2":-2.9},{"t":970.34,"P1":-0.35,"P2":-2.52},{"t":970.38,"P1":-0.15,"P2":-2.72},{"t":970.42,"P1":-0.5,"P2":-2.2},{"t":970.46,"P1":-0.28,"P2":-2.82},{"t":970.5,"P1":-0.75,"P2":-2.45},{"t":970.54,"P1":-0.4,"P2":-3.0},{"t":970.58,"P1":-0.05,"P2":-2.62},
{"t":970.62,"P1":-0.32,"P2":-2.35},{"t":970.66,"P1":-0.55,"P2":-2.75},{"t":970.7,"P1":-0.18,"P2":-2.5},{"t":970.74,"P1":-0.44,"P2":-2.95},{"t":970.78,"P1":0.08,"P2":-2.65},{"t":970.82,"P1":-0.38,"P2":-2.28},{"t":970.86,"P1":-0.6,"P2":-2.8},{"t":970.9,"P1":-0.25,"P2":-2.55},{"t":970.94,"P1":-0.5,"P2":-2.4},{"t":970.98,"P1":-0.12,"P2":-3.08},
{"t":971.02,"P1":-0.4,"P2":-2.7},{"t":971.06,"P1":-0.22,"P2":-2.45},{"t":971.1,"P1":-0.58,"P2":-2.88},{"t":971.14,"P1":-0.3,"P2":-2.6},{"t":971.18,"P1":-0.06,"P2":-2.32},{"t":971.22,"P1":-0.48,"P2":-2.78},{"t":971.26,"P1":-0.35,"P2":-2.55},{"t":971.3,"P1":0.12,"P2":-2.98},{"t":971.34,"P1":-0.62,"P2":-2.42},{"t":971.38,"P1":-0.2,"P2":-2.68},
{"t":971.42,"P1":-0.3,"P2":-2.5},{"t":971.46,"P1":-0.5,"P2":-2.82},{"t":971.5,"P1":-0.1,"P2":-2.38},{"t":971.54,"P1":-0.42,"P2":-3.12},{"t":971.58,"P1":0.15,"P2":-2.62},{"t":971.62,"P1":-0.26,"P2":-2.75},{"t":971.66,"P1":-0.55,"P2":-2.45},{"t":971.7,"P1":-0.05,"P2":-2.9},{"t":971.74,"P1":-0.36,"P2":-2.58},{"t":971.78,"P1":-0.68,"P2":-2.3},
{"t":971.82,"P1":-0.15,"P2":-2.78},{"t":971.86,"P1":0.1,"P2":-2.55},{"t":971.9,"P1":-0.4,"P2":-3.05},{"t":971.94,"P1":-0.22,"P2":-2.68},{"t":971.98,"P1":-0.58,"P2":-2.4},{"t":972.02,"P1":0.05,"P2":-2.92},{"t":972.06,"P1":-0.3,"P2":-2.62},{"t":972.1,"P1":-0.12,"P2":-3.2},{"t":972.14,"P1":0.22,"P2":-2.5},{"t":972.18,"P1":-0.45,"P2":-2.85},
{"t":972.22,"P1":-0.08,"P2":-2.6},{"t":972.26,"P1":0.28,"P2":-3.0},{"t":972.3,"P1":-0.35,"P2":-2.72},{"t":972.34,"P1":0.0,"P2":-2.45},{"t":972.38,"P1":-0.2,"P2":-3.15},{"t":972.42,"P1":0.15,"P2":-2.8},{"t":972.46,"P1":-0.5,"P2":-2.55},{"t":972.5,"P1":-0.1,"P2":-2.4},{"t":972.54,"P1":0.32,"P2":-2.95},{"t":972.58,"P1":-0.28,"P2":-2.68},
{"t":972.62,"P1":0.06,"P2":-2.45},{"t":972.66,"P1":-0.4,"P2":-2.8},{"t":972.7,"P1":0.2,"P2":-2.3},{"t":972.74,"P1":-0.15,"P2":-2.62},{"t":972.78,"P1":-0.3,"P2":-2.15},{"t":972.82,"P1":0.24,"P2":-2.55},{"t":972.86,"P1":-0.05,"P2":-2.38},{"t":972.9,"P1":-0.45,"P2":-2.72},{"t":972.94,"P1":0.12,"P2":-2.2},{"t":972.98,"P1":-0.22,"P2":-2.5}
]},
"layer":[
{"data":{"name":"xt"},
 "mark":{"type":"rule","color":"#262626","strokeWidth":1.5},
 "encoding":{
  "x":{"field":"tx","type":"quantitative","scale":{"domain":[950,975],"nice":false,"zero":false},"axis":null},
  "y":{"datum":-5,"type":"quantitative","scale":{"domain":[-5,3],"nice":false,"zero":false},"axis":null},
  "y2":{"datum":-4.89}
 }},
{"data":{"name":"xt"},
 "mark":{"type":"rule","color":"#262626","strokeWidth":1.5},
 "encoding":{
  "x":{"field":"tx","type":"quantitative","scale":{"domain":[950,975],"nice":false,"zero":false},"axis":null},
  "y":{"datum":3,"type":"quantitative","scale":{"domain":[-5,3],"nice":false,"zero":false},"axis":null},
  "y2":{"datum":2.89}
 }},
{"data":{"name":"yt"},
 "mark":{"type":"rule","color":"#262626","strokeWidth":1.5},
 "encoding":{
  "y":{"field":"ty","type":"quantitative","scale":{"domain":[-5,3],"nice":false,"zero":false},"axis":null},
  "x":{"datum":950,"type":"quantitative","scale":{"domain":[950,975],"nice":false,"zero":false},"axis":null},
  "x2":{"datum":950.26}
 }},
{"data":{"name":"yt"},
 "mark":{"type":"rule","color":"#262626","strokeWidth":1.5},
 "encoding":{
  "y":{"field":"ty","type":"quantitative","scale":{"domain":[-5,3],"nice":false,"zero":false},"axis":null},
  "x":{"datum":975,"type":"quantitative","scale":{"domain":[950,975],"nice":false,"zero":false},"axis":null},
  "x2":{"datum":974.74}
 }},
{"data":{"name":"pts"},
 "transform":[{"fold":["P1","P2"],"as":["s","v"]}],
 "mark":{"type":"circle","size":20,"opacity":1},
 "encoding":{
  "x":{"field":"t","type":"quantitative","scale":{"domain":[950,975],"nice":false,"zero":false},"axis":{"orient":"bottom","values":[950,955,960,965,970,975],"labelExpr":"''+datum.value","ticks":false,"title":"MJD-57000","labelPadding":14,"titlePadding":5}},
  "y":{"field":"v","type":"quantitative","scale":{"domain":[-5,3],"nice":false,"zero":false},"axis":{"orient":"left","values":[-5,-4,-3,-2,-1,0,1,2,3],"labelExpr":"''+datum.value","ticks":false,"title":"ns","labelPadding":12,"titlePadding":3}},
  "color":{"field":"s","type":"nominal","scale":{"domain":["P1","P2"],"range":["#0000FF","#FF0000"]},
   "legend":{"title":null,"orient":"none","legendX":566,"legendY":20,"padding":8,"rowPadding":9,"symbolType":"circle","symbolSize":18,"symbolOffset":17,"labelOffset":18,"labelFontSize":17,"labelColor":"#000000","fillColor":"white","strokeColor":"#262626"}}
 }},
{"data":{"name":"pts"},
 "transform":[{"fold":["P1","P2"],"as":["s","v"]}],
 "mark":{"type":"circle","size":20,"opacity":0},
 "encoding":{
  "x":{"field":"t","type":"quantitative","scale":{"domain":[950,975],"nice":false,"zero":false},"axis":{"orient":"bottom","offset":-530,"values":[950,975],"ticks":false,"labels":false,"title":null}},
  "y":{"field":"v","type":"quantitative","scale":{"domain":[-5,3],"nice":false,"zero":false},"axis":{"orient":"left","offset":-675,"values":[-5,3],"ticks":false,"labels":false,"title":null}}
 }}
],
"resolve":{"axis":{"x":"independent","y":"independent"}}
}
